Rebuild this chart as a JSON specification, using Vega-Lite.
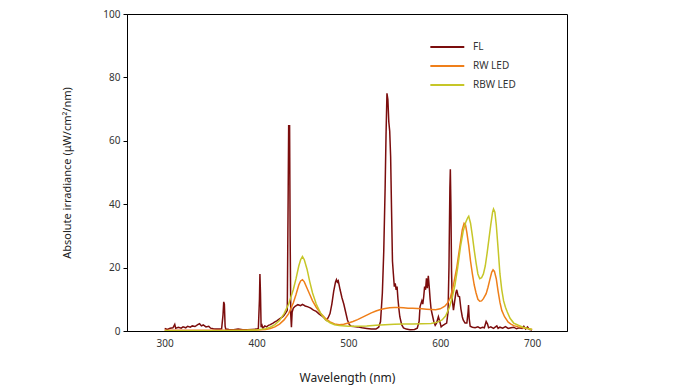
{
  "$schema": "https://vega.github.io/schema/vega-lite/v6.json",
  "width": 440,
  "height": 317,
  "autosize": "none",
  "padding": {"left": 127, "top": 14, "right": 108, "bottom": 61},
  "background": "white",
  "config": {
    "font": "Noto Sans",
    "view": {"stroke": "black", "strokeWidth": 1},
    "axis": {"grid": false, "domainColor": "black", "labelColor": "#333", "titleColor": "#222", "labelFontSize": 10, "titleFontSize": 11, "titleFontWeight": "normal"}
  },
  "data": {"values": [
    {"s":"FL","nm":300,"v":0.8},{"s":"FL","nm":303,"v":0.5},{"s":"FL","nm":306,"v":0.9},{"s":"FL","nm":309,"v":1.0},{"s":"FL","nm":311,"v":2.1},{"s":"FL","nm":312,"v":0.9},{"s":"FL","nm":315,"v":1.2},{"s":"FL","nm":318,"v":0.9},{"s":"FL","nm":320,"v":1.3},{"s":"FL","nm":323,"v":1.0},{"s":"FL","nm":325,"v":1.5},{"s":"FL","nm":328,"v":1.2},{"s":"FL","nm":330,"v":1.6},{"s":"FL","nm":333,"v":1.4},{"s":"FL","nm":336,"v":2.0},{"s":"FL","nm":338,"v":2.3},{"s":"FL","nm":340,"v":1.6},{"s":"FL","nm":342,"v":1.9},{"s":"FL","nm":345,"v":1.3},{"s":"FL","nm":348,"v":1.5},{"s":"FL","nm":350,"v":0.9},{"s":"FL","nm":353,"v":0.7},{"s":"FL","nm":356,"v":0.6},{"s":"FL","nm":360,"v":0.6},{"s":"FL","nm":362,"v":0.7},{"s":"FL","nm":363.5,"v":5},{"s":"FL","nm":364.3,"v":9.2},{"s":"FL","nm":365,"v":8.5},{"s":"FL","nm":365.8,"v":1.5},{"s":"FL","nm":366.5,"v":0.6},{"s":"FL","nm":370,"v":0.5},{"s":"FL","nm":375,"v":0.4},{"s":"FL","nm":380,"v":0.6},{"s":"FL","nm":385,"v":0.4},{"s":"FL","nm":390,"v":0.4},{"s":"FL","nm":395,"v":0.5},{"s":"FL","nm":400,"v":0.6},{"s":"FL","nm":402,"v":0.8},{"s":"FL","nm":403.2,"v":10},{"s":"FL","nm":403.7,"v":18},{"s":"FL","nm":404.3,"v":12},{"s":"FL","nm":405,"v":1.2},{"s":"FL","nm":406,"v":1.8},{"s":"FL","nm":407,"v":0.9},{"s":"FL","nm":409,"v":1.6},{"s":"FL","nm":411,"v":1.3},{"s":"FL","nm":413,"v":1.8},{"s":"FL","nm":415,"v":2.0},{"s":"FL","nm":418,"v":2.5},{"s":"FL","nm":420,"v":2.9},{"s":"FL","nm":422,"v":3.2},{"s":"FL","nm":425,"v":3.8},{"s":"FL","nm":428,"v":4.4},{"s":"FL","nm":430,"v":5.0},{"s":"FL","nm":432,"v":5.8},{"s":"FL","nm":433.5,"v":6.5},{"s":"FL","nm":434.5,"v":45},{"s":"FL","nm":435.0,"v":65},{"s":"FL","nm":435.5,"v":62},{"s":"FL","nm":436,"v":65},{"s":"FL","nm":436.6,"v":30},{"s":"FL","nm":437.3,"v":5},{"s":"FL","nm":438,"v":1.2},{"s":"FL","nm":438.8,"v":6},{"s":"FL","nm":440,"v":7.2},{"s":"FL","nm":442,"v":7.8},{"s":"FL","nm":445,"v":8.3},{"s":"FL","nm":448,"v":8.0},{"s":"FL","nm":450,"v":8.4},{"s":"FL","nm":453,"v":7.9},{"s":"FL","nm":456,"v":7.6},{"s":"FL","nm":459,"v":7.2},{"s":"FL","nm":462,"v":6.6},{"s":"FL","nm":465,"v":6.2},{"s":"FL","nm":468,"v":5.4},{"s":"FL","nm":471,"v":4.8},{"s":"FL","nm":474,"v":4.0},{"s":"FL","nm":476,"v":3.4},{"s":"FL","nm":478,"v":4.2},{"s":"FL","nm":480,"v":5.5},{"s":"FL","nm":482,"v":8.5},{"s":"FL","nm":484,"v":12.5},{"s":"FL","nm":486,"v":15.5},{"s":"FL","nm":487,"v":16.2},{"s":"FL","nm":488,"v":15.4},{"s":"FL","nm":489,"v":15.8},{"s":"FL","nm":491,"v":13},{"s":"FL","nm":493,"v":10.5},{"s":"FL","nm":495,"v":8.5},{"s":"FL","nm":497,"v":6},{"s":"FL","nm":499,"v":3.5},{"s":"FL","nm":501,"v":2},{"s":"FL","nm":503,"v":1.5},{"s":"FL","nm":506,"v":1.4},{"s":"FL","nm":510,"v":1.3},{"s":"FL","nm":515,"v":1.0},{"s":"FL","nm":520,"v":0.8},{"s":"FL","nm":525,"v":0.6},{"s":"FL","nm":530,"v":0.6},{"s":"FL","nm":533,"v":1.2},{"s":"FL","nm":535,"v":3},{"s":"FL","nm":537,"v":12},{"s":"FL","nm":538.5,"v":25},{"s":"FL","nm":540,"v":45},{"s":"FL","nm":541,"v":62},{"s":"FL","nm":542,"v":75},{"s":"FL","nm":543,"v":73},{"s":"FL","nm":544,"v":66},{"s":"FL","nm":545,"v":63},{"s":"FL","nm":546,"v":55},{"s":"FL","nm":547,"v":38},{"s":"FL","nm":548,"v":22},{"s":"FL","nm":549,"v":18},{"s":"FL","nm":550,"v":14},{"s":"FL","nm":551,"v":15},{"s":"FL","nm":552,"v":13},{"s":"FL","nm":553,"v":14},{"s":"FL","nm":554,"v":10},{"s":"FL","nm":555,"v":7},{"s":"FL","nm":556,"v":4.5},{"s":"FL","nm":558,"v":2},{"s":"FL","nm":560,"v":1},{"s":"FL","nm":563,"v":0.6},{"s":"FL","nm":567,"v":0.4},{"s":"FL","nm":572,"v":0.5},{"s":"FL","nm":575,"v":0.9},{"s":"FL","nm":577,"v":3},{"s":"FL","nm":578,"v":7.7},{"s":"FL","nm":580,"v":9.5},{"s":"FL","nm":581,"v":8.5},{"s":"FL","nm":582,"v":10.8},{"s":"FL","nm":583,"v":14},{"s":"FL","nm":584,"v":13},{"s":"FL","nm":585,"v":16.6},{"s":"FL","nm":586,"v":13.5},{"s":"FL","nm":587,"v":17.4},{"s":"FL","nm":588,"v":14},{"s":"FL","nm":589,"v":10},{"s":"FL","nm":590,"v":7},{"s":"FL","nm":591,"v":5.6},{"s":"FL","nm":593,"v":3},{"s":"FL","nm":594.5,"v":1.8},{"s":"FL","nm":596,"v":2.5},{"s":"FL","nm":598,"v":4.5},{"s":"FL","nm":599.5,"v":3},{"s":"FL","nm":601,"v":1.3},{"s":"FL","nm":603,"v":1.8},{"s":"FL","nm":605,"v":2.2},{"s":"FL","nm":607,"v":2.5},{"s":"FL","nm":608.5,"v":6},{"s":"FL","nm":609.5,"v":20},{"s":"FL","nm":610.5,"v":45},{"s":"FL","nm":611,"v":51},{"s":"FL","nm":611.6,"v":40},{"s":"FL","nm":612.3,"v":19},{"s":"FL","nm":613,"v":10},{"s":"FL","nm":614.4,"v":6.6},{"s":"FL","nm":616,"v":10},{"s":"FL","nm":617,"v":12},{"s":"FL","nm":618,"v":13},{"s":"FL","nm":619.5,"v":11},{"s":"FL","nm":621,"v":10.8},{"s":"FL","nm":622.5,"v":7},{"s":"FL","nm":624,"v":4.5},{"s":"FL","nm":625,"v":3.5},{"s":"FL","nm":627,"v":2.5},{"s":"FL","nm":629,"v":2.5},{"s":"FL","nm":630.3,"v":6},{"s":"FL","nm":630.8,"v":8.2},{"s":"FL","nm":631.5,"v":4},{"s":"FL","nm":632.6,"v":1.5},{"s":"FL","nm":635,"v":1.2},{"s":"FL","nm":638,"v":1.0},{"s":"FL","nm":641,"v":1.3},{"s":"FL","nm":643.5,"v":0.9},{"s":"FL","nm":646,"v":1.2},{"s":"FL","nm":648,"v":1.0},{"s":"FL","nm":650,"v":3},{"s":"FL","nm":651.5,"v":2.2},{"s":"FL","nm":652.6,"v":1.0},{"s":"FL","nm":655,"v":1.3},{"s":"FL","nm":658,"v":0.8},{"s":"FL","nm":661.6,"v":1.6},{"s":"FL","nm":663,"v":0.8},{"s":"FL","nm":665,"v":1.2},{"s":"FL","nm":668,"v":0.9},{"s":"FL","nm":671,"v":1.4},{"s":"FL","nm":674,"v":0.8},{"s":"FL","nm":677,"v":1.0},{"s":"FL","nm":680,"v":1.2},{"s":"FL","nm":683,"v":0.7},{"s":"FL","nm":686,"v":1.0},{"s":"FL","nm":689,"v":0.8},{"s":"FL","nm":691,"v":1.5},{"s":"FL","nm":693,"v":0.6},{"s":"FL","nm":695,"v":1.3},{"s":"FL","nm":697,"v":0.5},{"s":"FL","nm":700,"v":0.3},

    {"s":"RW LED","nm":300,"v":0.2},{"s":"RW LED","nm":320,"v":0.2},{"s":"RW LED","nm":340,"v":0.2},{"s":"RW LED","nm":360,"v":0.2},{"s":"RW LED","nm":380,"v":0.2},{"s":"RW LED","nm":400,"v":0.3},{"s":"RW LED","nm":410,"v":0.5},{"s":"RW LED","nm":415,"v":0.8},{"s":"RW LED","nm":420,"v":1.3},{"s":"RW LED","nm":425,"v":2.2},{"s":"RW LED","nm":430,"v":3.5},{"s":"RW LED","nm":435,"v":5.5},{"s":"RW LED","nm":440,"v":8.8},{"s":"RW LED","nm":443,"v":11.5},{"s":"RW LED","nm":446,"v":14.5},{"s":"RW LED","nm":448,"v":15.8},{"s":"RW LED","nm":450,"v":16.2},{"s":"RW LED","nm":452,"v":15.5},{"s":"RW LED","nm":455,"v":13.5},{"s":"RW LED","nm":458,"v":11.5},{"s":"RW LED","nm":461,"v":9.5},{"s":"RW LED","nm":465,"v":7.5},{"s":"RW LED","nm":470,"v":5.5},{"s":"RW LED","nm":475,"v":4.0},{"s":"RW LED","nm":480,"v":2.9},{"s":"RW LED","nm":485,"v":2.2},{"s":"RW LED","nm":490,"v":2.0},{"s":"RW LED","nm":495,"v":2.1},{"s":"RW LED","nm":500,"v":2.5},{"s":"RW LED","nm":505,"v":3.0},{"s":"RW LED","nm":510,"v":3.6},{"s":"RW LED","nm":515,"v":4.3},{"s":"RW LED","nm":520,"v":5.0},{"s":"RW LED","nm":525,"v":5.7},{"s":"RW LED","nm":530,"v":6.3},{"s":"RW LED","nm":535,"v":6.8},{"s":"RW LED","nm":540,"v":7.1},{"s":"RW LED","nm":545,"v":7.3},{"s":"RW LED","nm":550,"v":7.4},{"s":"RW LED","nm":555,"v":7.4},{"s":"RW LED","nm":560,"v":7.3},{"s":"RW LED","nm":565,"v":7.2},{"s":"RW LED","nm":570,"v":7.2},{"s":"RW LED","nm":575,"v":7.1},{"s":"RW LED","nm":580,"v":7.0},{"s":"RW LED","nm":585,"v":6.9},{"s":"RW LED","nm":590,"v":6.8},{"s":"RW LED","nm":595,"v":6.7},{"s":"RW LED","nm":600,"v":7.0},{"s":"RW LED","nm":605,"v":7.8},{"s":"RW LED","nm":608,"v":8.8},{"s":"RW LED","nm":611,"v":10.5},{"s":"RW LED","nm":614,"v":14},{"s":"RW LED","nm":618,"v":20},{"s":"RW LED","nm":621,"v":26},{"s":"RW LED","nm":624,"v":32},{"s":"RW LED","nm":626,"v":34},{"s":"RW LED","nm":627.5,"v":33.5},{"s":"RW LED","nm":629,"v":31},{"s":"RW LED","nm":631,"v":27},{"s":"RW LED","nm":633,"v":22},{"s":"RW LED","nm":635,"v":18},{"s":"RW LED","nm":637,"v":14.5},{"s":"RW LED","nm":639,"v":12},{"s":"RW LED","nm":641,"v":10},{"s":"RW LED","nm":643,"v":9.4},{"s":"RW LED","nm":645,"v":9.5},{"s":"RW LED","nm":647,"v":10.2},{"s":"RW LED","nm":650,"v":11.8},{"s":"RW LED","nm":652,"v":13.8},{"s":"RW LED","nm":654,"v":16.2},{"s":"RW LED","nm":656,"v":18.5},{"s":"RW LED","nm":657.5,"v":19.3},{"s":"RW LED","nm":659,"v":18.8},{"s":"RW LED","nm":661,"v":16.5},{"s":"RW LED","nm":663,"v":12.5},{"s":"RW LED","nm":665,"v":9},{"s":"RW LED","nm":667,"v":6.5},{"s":"RW LED","nm":670,"v":4.5},{"s":"RW LED","nm":674,"v":2.8},{"s":"RW LED","nm":677,"v":2.2},{"s":"RW LED","nm":680,"v":1.7},{"s":"RW LED","nm":685,"v":1.3},{"s":"RW LED","nm":690,"v":1.0},{"s":"RW LED","nm":695,"v":0.8},{"s":"RW LED","nm":700,"v":0.5},

    {"s":"RBW LED","nm":300,"v":0.1},{"s":"RBW LED","nm":330,"v":0.1},{"s":"RBW LED","nm":360,"v":0.1},{"s":"RBW LED","nm":390,"v":0.2},{"s":"RBW LED","nm":400,"v":0.3},{"s":"RBW LED","nm":410,"v":0.7},{"s":"RBW LED","nm":415,"v":1.2},{"s":"RBW LED","nm":420,"v":2.0},{"s":"RBW LED","nm":425,"v":3.3},{"s":"RBW LED","nm":430,"v":5.5},{"s":"RBW LED","nm":435,"v":8.5},{"s":"RBW LED","nm":440,"v":13},{"s":"RBW LED","nm":443,"v":16.5},{"s":"RBW LED","nm":446,"v":20.5},{"s":"RBW LED","nm":448,"v":22.5},{"s":"RBW LED","nm":450,"v":23.5},{"s":"RBW LED","nm":452,"v":22.5},{"s":"RBW LED","nm":455,"v":19.5},{"s":"RBW LED","nm":458,"v":15.5},{"s":"RBW LED","nm":461,"v":12},{"s":"RBW LED","nm":465,"v":8.5},{"s":"RBW LED","nm":470,"v":5.5},{"s":"RBW LED","nm":475,"v":3.6},{"s":"RBW LED","nm":480,"v":2.6},{"s":"RBW LED","nm":485,"v":2.0},{"s":"RBW LED","nm":490,"v":1.7},{"s":"RBW LED","nm":500,"v":1.5},{"s":"RBW LED","nm":510,"v":1.5},{"s":"RBW LED","nm":520,"v":1.6},{"s":"RBW LED","nm":530,"v":1.8},{"s":"RBW LED","nm":540,"v":2.0},{"s":"RBW LED","nm":550,"v":2.1},{"s":"RBW LED","nm":560,"v":2.2},{"s":"RBW LED","nm":570,"v":2.2},{"s":"RBW LED","nm":580,"v":2.3},{"s":"RBW LED","nm":590,"v":2.4},{"s":"RBW LED","nm":597,"v":2.8},{"s":"RBW LED","nm":602,"v":3.5},{"s":"RBW LED","nm":606,"v":4.8},{"s":"RBW LED","nm":610,"v":7.5},{"s":"RBW LED","nm":613,"v":10.5},{"s":"RBW LED","nm":616,"v":14.5},{"s":"RBW LED","nm":619,"v":20},{"s":"RBW LED","nm":622,"v":26.5},{"s":"RBW LED","nm":625,"v":31.5},{"s":"RBW LED","nm":628,"v":34.5},{"s":"RBW LED","nm":630,"v":35.8},{"s":"RBW LED","nm":631,"v":36.2},{"s":"RBW LED","nm":633,"v":34},{"s":"RBW LED","nm":635,"v":30},{"s":"RBW LED","nm":637,"v":25.5},{"s":"RBW LED","nm":639,"v":21.5},{"s":"RBW LED","nm":641,"v":18},{"s":"RBW LED","nm":643,"v":16.5},{"s":"RBW LED","nm":645,"v":16.8},{"s":"RBW LED","nm":647,"v":18},{"s":"RBW LED","nm":649,"v":20.5},{"s":"RBW LED","nm":651,"v":24.5},{"s":"RBW LED","nm":653,"v":29},{"s":"RBW LED","nm":655,"v":33.5},{"s":"RBW LED","nm":657,"v":37.5},{"s":"RBW LED","nm":658,"v":38.5},{"s":"RBW LED","nm":659.5,"v":37.5},{"s":"RBW LED","nm":661,"v":33.5},{"s":"RBW LED","nm":663,"v":26},{"s":"RBW LED","nm":665,"v":18},{"s":"RBW LED","nm":667,"v":13},{"s":"RBW LED","nm":669,"v":9.5},{"s":"RBW LED","nm":671,"v":7.5},{"s":"RBW LED","nm":673,"v":6},{"s":"RBW LED","nm":676,"v":4},{"s":"RBW LED","nm":680,"v":2.5},{"s":"RBW LED","nm":685,"v":1.8},{"s":"RBW LED","nm":690,"v":1.2},{"s":"RBW LED","nm":695,"v":0.8},{"s":"RBW LED","nm":700,"v":0.5}
  ]},
  "mark": {"type": "line", "strokeWidth": 1.5, "clip": true},
  "encoding": {
    "x": {"field": "nm", "type": "quantitative",
      "scale": {"domain": [259, 738], "nice": false, "zero": false},
      "axis": {"title": "Wavelength (nm)", "values": [300, 400, 500, 600, 700], "ticks": false, "labelPadding": 7, "titlePadding": 24, "titleFontSize": 12}},
    "y": {"field": "v", "type": "quantitative",
      "scale": {"domain": [0, 100], "nice": false},
      "axis": {"title": "Absolute irradiance (μW/cm²/nm)", "values": [0, 20, 40, 60, 80, 100], "tickSize": 4, "tickColor": "black", "labelPadding": 3, "titlePadding": 30}},
    "color": {"field": "s", "type": "nominal",
      "scale": {"domain": ["FL", "RW LED", "RBW LED"], "range": ["#7b0d0d", "#ef7f1a", "#c6c628"]},
      "legend": {"title": null, "orient": "none", "legendX": 302, "legendY": 26, "symbolType": "M-1,0H5", "symbolSize": 128, "symbolStrokeWidth": 2, "labelFontSize": 10, "labelColor": "#333", "labelOffset": 30, "rowPadding": 7}},
    "order": {"field": "nm", "type": "quantitative"}
  }
}
